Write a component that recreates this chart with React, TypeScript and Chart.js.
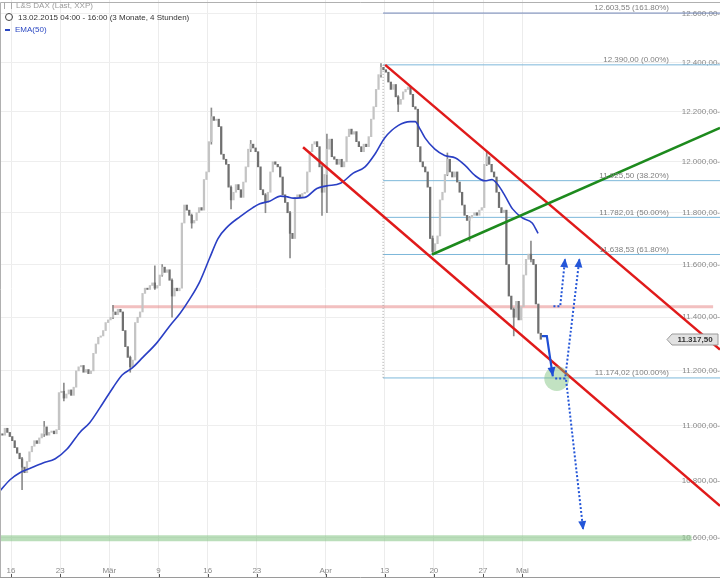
import React, { useEffect, useRef } from "react";
import { Chart, registerables } from "chart.js";

Chart.register(...registerables);

// ---------------- data ----------------
const FONT = "'Liberation Sans', Arial, sans-serif";
const BARS_PER_DAY = 4;
const firstOpen = 10970;
// 4-hour closes, 4 bars per trading day (13.02.2015 .. 05.05.2015)
const closes = [
  10965, 10990, 10975, 10960,
  10945, 10920, 10900, 10880,
  10850, 10830, 10870, 10905,
  10925, 10945, 10935, 10955,
  10970, 10995, 10965, 10975,
  10980, 10970, 10985, 11120,
  11125, 11100, 11115, 11130,
  11110, 11140, 11200, 11215,
  11220, 11195, 11205, 11190,
  11200, 11265, 11300, 11325,
  11330, 11350, 11380, 11390,
  11400, 11420, 11410, 11430,
  11420, 11350, 11290, 11250,
  11215, 11240, 11380, 11400,
  11420, 11490, 11510, 11505,
  11520, 11530, 11510, 11520,
  11560, 11590, 11570, 11580,
  11540, 11480, 11510, 11500,
  11510, 11760, 11830, 11810,
  11790, 11760, 11770, 11800,
  11820, 11810, 11930, 11960,
  12080, 12180, 12165, 12170,
  12140, 12030, 12010, 11990,
  11900, 11850, 11880, 11910,
  11890, 11860, 11920, 11980,
  12050, 12070, 12055, 12040,
  11980, 11890, 11870, 11840,
  11880, 11960, 12000, 11990,
  11980, 11940, 11870, 11840,
  11800, 11720, 11700, 11860,
  11870, 11860, 11875, 11880,
  11960, 12040, 12070, 12080,
  12060, 11980, 11880, 11950,
  12050, 12090, 12020, 12010,
  11990, 12010, 11980, 12000,
  12100, 12130, 12110, 12120,
  12080, 12060, 12040, 12070,
  12060, 12100, 12170, 12220,
  12290, 12350, 12380, 12370,
  12360, 12320, 12290, 12310,
  12260, 12230, 12250, 12280,
  12290, 12300, 12270, 12220,
  12210, 12060, 12000, 11980,
  11960, 11900, 11700, 11650,
  11680, 11710, 11850, 11880,
  11950, 12010, 11960, 11940,
  11960, 11920, 11880, 11830,
  11790, 11770, 11780, 11790,
  11800, 11790, 11810, 11820,
  11990, 12020, 11990, 11960,
  11940, 11880, 11820, 11800,
  11810, 11600, 11480, 11430,
  11400, 11460, 11390, 11440,
  11560, 11620, 11640, 11620,
  11600, 11450, 11340, 11317.5,
];
// notable wicks: bar index, low, high
const wickBars = [8, 17, 25, 45, 52, 62, 65, 69, 77, 85, 93, 101, 107, 117, 130, 132, 154, 161, 175, 181, 190, 197, 208, 215];
const wickLows = [10770, 10960, 11090, 11395, 11195, 11505, 11555, 11400, 11740, 12070, 11815, 12040, 11800, 11625, 11790, 11800, 12340, 12200, 11638, 11945, 11690, 11985, 11330, 11610];
const wickHighs = [10885, 11015, 11155, 11445, 11255, 11595, 11600, 11545, 11795, 12215, 11905, 12085, 11875, 11805, 11985, 12110, 12395, 12265, 11710, 12035, 11785, 12040, 11435, 11690];

// EMA(50) (trading-day position, value)
const emaDays = [-0.12, 0.9, 1.9, 2.9, 4.25, 5.5, 6.7, 8.0, 9.0, 10.05, 11.4, 12.3, 13.3, 14.4, 15.85, 17.2, 18.2, 19.2, 20.2, 21.2, 22.05, 23.0, 24.3, 25.6, 26.3, 27.3, 28.4, 29.1, 29.7, 30.9, 32.1, 33.1, 34.5, 35.8, 37.0, 38.0, 39.0, 40.4, 41.6, 42.1, 42.6, 43.1, 44.1, 45.1, 46.2, 47.2, 48.2, 49.2, 49.9, 50.5, 51.25, 52.0, 53.0, 54.0, 54.6];
const emaValues = [10765, 10805, 10830, 10845, 10865, 10880, 10915, 10975, 11010, 11065, 11140, 11185, 11210, 11250, 11305, 11370, 11415, 11470, 11535, 11625, 11700, 11745, 11785, 11820, 11835, 11845, 11865, 11862, 11857, 11860, 11895, 11905, 11915, 11955, 11980, 12030, 12095, 12145, 12160, 12160, 12130, 12095, 12050, 12025, 12015, 11985, 11945, 11925, 11930, 11910, 11865, 11815, 11780, 11760, 11720];

// axes
const X_MIN = -0.12;
const X_MAX = 73.1;
const Y_MIN = 10463.7;
const Y_MAX = 12658;
const xTickDays = [1, 6, 11, 16, 21, 26, 33, 39, 44, 49, 53];
const xTickLabels = ["16", "23", "Mär", "9", "16", "23", "Apr", "13", "20", "27", "Mai"];
const yTickValues = [10600, 10800, 11000, 11200, 11400, 11600, 11800, 12000, 12200, 12400, 12600];

// Fibonacci
const fibStartDay = 38.84;
const fibLevels = [12603.55, 12390.0, 11925.5, 11782.01, 11638.53, 11174.02];
const fibPercents = ["161.80%", "0.00%", "38.20%", "50.00%", "61.80%", "100.00%"];

// drawn lines
const upperChannelDays = [39.05, 73.1];
const upperChannelValues = [12390, 11279];
const lowerChannelDays = [30.7, 73.1];
const lowerChannelValues = [12058, 10712];
const supportDays = [43.82, 73.1];
const supportValues = [11638.5, 12135];
const resistanceDays = [11.27, 72.4];
const resistanceValue = 11440;
const targetDays = [-0.12, 70.2];
const targetValue = 10598;

// arrows
const solidArrowDays = [54.98, 55.49, 56.1];
const solidArrowValues = [11329, 11329, 11180];
const dotArrow1Days = [56.16, 56.85, 57.35];
const dotArrow1Values = [11441, 11441, 11624];
const dotArrow2Days = [56.34, 57.35, 58.81];
const dotArrow2Values = [11172, 11172, 11624];
const dotArrow3Days = [57.45, 59.19];
const dotArrow3Values = [11167, 10627];
const circleDay = 56.5;
const circleValue = 11172;

const lastPrice = 11317.5;

// ---------------- helpers ----------------
function fmt(v: number): string {
  const s = v.toFixed(2);
  const [i, d] = s.split(".");
  return i.replace(/\B(?=(\d{3})+(?!\d))/g, ".") + "," + d;
}

function pts(days: number[], values: number[]) {
  return days.map((d, i) => ({ x: d, y: values[i] }));
}

function lineDs(data: any[], color: string, width: number, order: number, extra: any = {}) {
  return {
    type: "line" as const,
    data,
    borderColor: color,
    backgroundColor: color,
    borderWidth: width,
    pointRadius: 0,
    fill: false,
    tension: 0,
    order,
    ...extra,
  };
}

const overlayPlugin = {
  id: "overlay",
  afterDatasetsDraw(chart: any) {
    const { ctx, chartArea, scales } = chart;
    const y = scales.y;
    const x = scales.x;
    ctx.save();

    // arrow heads
    chart.data.datasets.forEach((ds: any, i: number) => {
      if (!ds.arrowHead) return;
      const meta = chart.getDatasetMeta(i);
      const n = meta.data.length;
      const a = meta.data[n - 2];
      const b = meta.data[n - 1];
      const ang = Math.atan2(b.y - a.y, b.x - a.x);
      const len = 9;
      const hw = 4;
      ctx.beginPath();
      ctx.moveTo(b.x, b.y);
      ctx.lineTo(b.x - len * Math.cos(ang) + hw * Math.sin(ang), b.y - len * Math.sin(ang) - hw * Math.cos(ang));
      ctx.lineTo(b.x - len * Math.cos(ang) - hw * Math.sin(ang), b.y - len * Math.sin(ang) + hw * Math.cos(ang));
      ctx.closePath();
      ctx.fillStyle = ds.borderColor;
      ctx.fill();
    });

    // fib labels
    ctx.font = `8px ${FONT}`;
    ctx.fillStyle = "#808080";
    ctx.textAlign = "right";
    ctx.textBaseline = "bottom";
    fibLevels.forEach((lv, i) => {
      const py = y.getPixelForValue(lv);
      ctx.fillText(`${fmt(lv)} (${fibPercents[i]})`, chartArea.right - 51, py - 1);
    });

    // last price tag
    const py = Math.round(y.getPixelForValue(lastPrice)) + 0.5;
    const l = chartArea.right - 48;
    const r = chartArea.right - 2;
    ctx.beginPath();
    ctx.moveTo(l - 5, py);
    ctx.lineTo(l, py - 5.5);
    ctx.lineTo(r, py - 5.5);
    ctx.lineTo(r, py + 5.5);
    ctx.lineTo(l, py + 5.5);
    ctx.closePath();
    ctx.fillStyle = "#e2e2e2";
    ctx.fill();
    ctx.strokeStyle = "#9a9a9a";
    ctx.lineWidth = 1;
    ctx.stroke();
    ctx.fillStyle = "#333";
    ctx.font = `bold 8px ${FONT}`;
    ctx.textAlign = "center";
    ctx.textBaseline = "middle";
    ctx.fillText(fmt(lastPrice), (l + r) / 2, py + 0.5);

    // x tick marks
    ctx.strokeStyle = "#555";
    ctx.lineWidth = 1;
    x.ticks.forEach((t: any) => {
      const px = Math.round(x.getPixelForValue(t.value)) + 0.5;
      ctx.beginPath();
      ctx.moveTo(px, chartArea.bottom - 3);
      ctx.lineTo(px, chartArea.bottom);
      ctx.stroke();
    });

    // frame
    ctx.strokeStyle = "#b0b0b0";
    ctx.beginPath();
    ctx.moveTo(0.5, chartArea.bottom);
    ctx.lineTo(0.5, 2.5);
    ctx.lineTo(chart.width, 2.5);
    ctx.stroke();
    ctx.restore();
  },
};

export default function App() {
  const ref = useRef<HTMLCanvasElement>(null);

  useEffect(() => {
    document.body.style.margin = "0";
    const canvas = ref.current!;
    const barPos = (i: number) => Math.floor(i / BARS_PER_DAY) + ((i % BARS_PER_DAY) + 0.5) / BARS_PER_DAY;
    const opens = closes.map((c, i) => (i === 0 ? firstOpen : closes[i - 1]));
    const bodies = closes.map((c, i) => ({ x: barPos(i), y: [opens[i], c] }));
    const bodyColors = closes.map((c, i) => (c >= opens[i] ? "#c4c4c4" : "#707070"));
    const wicks = wickBars.map((b, j) => ({ x: barPos(b), y: [wickLows[j], wickHighs[j]] }));

    const datasets: any[] = [
      // arrows (top)
      lineDs(pts(solidArrowDays, solidArrowValues), "#1f4fd6", 2.2, 1, { arrowHead: true }),
      lineDs(pts(dotArrow1Days, dotArrow1Values), "#2456d8", 2, 1, { arrowHead: true, borderDash: [2, 2] }),
      lineDs(pts(dotArrow2Days, dotArrow2Values), "#2456d8", 2, 1, { arrowHead: true, borderDash: [2, 2] }),
      lineDs(pts(dotArrow3Days, dotArrow3Values), "#2456d8", 2, 1, { arrowHead: true, borderDash: [2, 2] }),
      {
        type: "scatter" as const,
        data: [{ x: circleDay, y: circleValue }],
        pointRadius: 12.5,
        pointBackgroundColor: "rgba(120,190,120,0.45)",
        pointBorderWidth: 0,
        showLine: false,
        order: 2,
      },
      lineDs(pts(supportDays, supportValues), "#1d8a1d", 2.5, 3),
      lineDs(pts(upperChannelDays, upperChannelValues), "#e01a1a", 2.5, 4),
      lineDs(pts(lowerChannelDays, lowerChannelValues), "#e01a1a", 2.5, 4),
      lineDs(pts(emaDays, emaValues), "#2a3fc4", 1.6, 5, { cubicInterpolationMode: "monotone" }),
      {
        type: "bar" as const,
        data: bodies,
        backgroundColor: bodyColors,
        borderWidth: 0,
        barThickness: 1.6,
        minBarLength: 1,
        grouped: false,
        order: 6,
      },
      {
        type: "bar" as const,
        data: wicks,
        backgroundColor: "#8c8c8c",
        borderWidth: 0,
        barThickness: 1,
        grouped: false,
        order: 7,
      },
      lineDs(pts([fibStartDay, fibStartDay], [fibLevels[1], fibLevels[5]]), "#9a9a9a", 1, 8, { borderDash: [1, 2] }),
      ...fibLevels.map((lv, i) =>
        lineDs(pts([fibStartDay, X_MAX], [lv, lv]), i === 0 ? "#6f83b5" : "#7db8da", 1, 9)
      ),
      lineDs(pts(resistanceDays, [resistanceValue, resistanceValue]), "rgba(232,140,140,0.55)", 3, 10),
      lineDs(pts(targetDays, [targetValue, targetValue]), "rgba(140,200,140,0.6)", 6, 11),
    ];

    const chart = new Chart(canvas, {
      type: "bar",
      data: { datasets },
      options: {
        responsive: false,
        animation: false,
        devicePixelRatio: 1,
        events: [],
        layout: { padding: 0, autoPadding: false },
        plugins: { legend: { display: false }, tooltip: { enabled: false } },
        scales: {
          x: {
            type: "linear",
            min: X_MIN,
            max: X_MAX,
            bounds: "data",
            offset: false,
            grid: { color: "#ececec", drawTicks: false, offset: false },
            border: { display: true, color: "#9a9a9a" },
            afterBuildTicks: (s: any) => {
              s.ticks = xTickDays.map((v) => ({ value: v }));
            },
            afterFit: (s: any) => {
              s.paddingLeft = 0;
              s.paddingRight = 0;
            },
            ticks: {
              mirror: true,
              padding: 1,
              autoSkip: false,
              maxRotation: 0,
              color: "#8a8a8a",
              font: { size: 8, family: FONT },
              callback: (_v: any, i: number) => xTickLabels[i],
            },
          },
          y: {
            type: "logarithmic",
            position: "right",
            min: Y_MIN,
            max: Y_MAX,
            bounds: "data",
            grid: { color: "#eeeeee", drawTicks: false },
            border: { display: false },
            afterBuildTicks: (s: any) => {
              s.ticks = yTickValues.map((v) => ({ value: v }));
            },
            afterFit: (s: any) => {
              s.paddingTop = 0;
              s.paddingBottom = 0;
            },
            ticks: {
              mirror: true,
              padding: 0,
              autoSkip: false,
              color: "#8a8a8a",
              font: { size: 8, family: FONT },
              callback: (v: any) => fmt(Number(v)) + "-",
            },
          },
        },
      } as any,
      plugins: [overlayPlugin],
    });
    return () => chart.destroy();
  }, []);

  const txt: React.CSSProperties = { position: "absolute", fontFamily: FONT, fontSize: 8, lineHeight: "12px", whiteSpace: "nowrap" };
  return (
    <div style={{ position: "relative", width: 720, height: 579, background: "#fff" }}>
      <canvas ref={ref} width={720} height={579} style={{ display: "block", width: 720, height: 579 }} />
      <div style={{ ...txt, left: 4, top: 0, color: "#9a9a9a" }}>
        <span style={{ display: "inline-block", width: 6, height: 7, borderLeft: "1px solid #aaa", borderRight: "1px solid #aaa", marginRight: 4, verticalAlign: "middle" }} />
        L&amp;S DAX (Last, XXP)
      </div>
      <div style={{ ...txt, left: 5, top: 12, color: "#333" }}>
        <span style={{ display: "inline-block", width: 6, height: 6, border: "1px solid #444", borderRadius: "50%", marginRight: 5, verticalAlign: "-1px" }} />
        13.02.2015 04:00 - 16:00 (3 Monate, 4 Stunden)
      </div>
      <div style={{ ...txt, left: 5, top: 24, color: "#2b48c2" }}>
        <span style={{ display: "inline-block", width: 5, height: 2, background: "#2b48c2", marginRight: 5, verticalAlign: "middle" }} />
        EMA(50)
      </div>
    </div>
  );
}
